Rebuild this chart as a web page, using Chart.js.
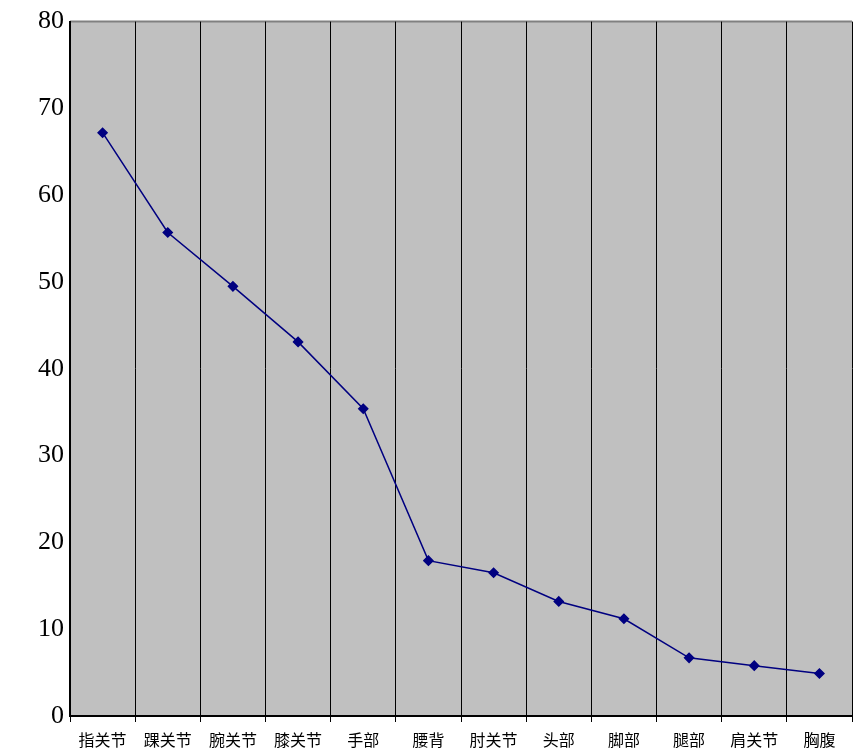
<!DOCTYPE html>
<html><head><meta charset="utf-8">
<script src="https://cdn.jsdelivr.net/npm/chart.js@4"></script>
<style>html,body{margin:0;padding:0;background:#fff}#w{width:860px;height:754px}</style>
</head><body><div id="w"><canvas id="c"></canvas></div>
<script>
const categories=["指关节","踝关节","腕关节","膝关节","手部","腰背","肘关节","头部","脚部","腿部","肩关节","胸腹"];
const values=[67.2,55.7,49.5,43.1,35.4,17.9,16.5,13.2,11.2,6.7,5.8,4.9];
const yTicks=[0,10,20,30,40,50,60,70,80];
const bg={id:'bg',beforeDraw(ch){const a=ch.chartArea,x=ch.ctx;x.save();x.fillStyle='#C0C0C0';x.fillRect(a.left,a.top,a.right-a.left,a.bottom-a.top);
x.strokeStyle='#808080';x.lineWidth=2;x.beginPath();x.moveTo(a.left,a.top);x.lineTo(a.right,a.top);x.stroke();x.restore();}};
new Chart(document.getElementById('c'),{type:'line',
data:{labels:categories,datasets:[{data:values,borderColor:'#000080',backgroundColor:'#000080',borderWidth:1.5,pointStyle:'rectRot',pointRadius:4.5,tension:0}]},
options:{responsive:true,maintainAspectRatio:false,animation:false,layout:{padding:{top:4,right:8,left:0,bottom:0}},
plugins:{legend:{display:false},tooltip:{enabled:false}},
scales:{
x:{offset:true,grid:{offset:true,color:'#000',lineWidth:1,drawTicks:true,tickLength:6,tickColor:'#000'},border:{color:'#000',width:2},
ticks:{color:'#000',font:{family:'Noto Sans CJK SC',size:16},padding:8,maxRotation:0,autoSkip:false},afterFit(s){s.height=38;}},
y:{min:0,max:80,afterBuildTicks(s){s.ticks=yTicks.map(v=>({value:v}));},grid:{display:false,drawTicks:false},border:{color:'#000',width:2},
ticks:{color:'#000',font:{family:'Liberation Serif',size:26},padding:6},afterFit(s){s.width=70;}}
}},plugins:[bg]});
</script></body></html>
